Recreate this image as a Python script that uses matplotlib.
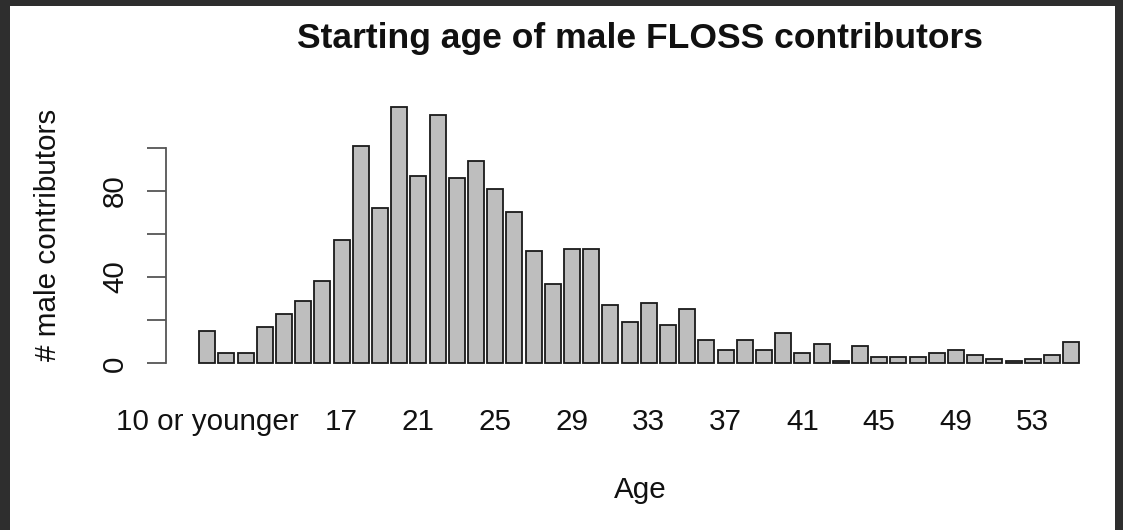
import matplotlib
matplotlib.use("Agg")
import matplotlib.pyplot as plt
from matplotlib.patches import Rectangle

# Starting age categories and number of male contributors per age
ages = ["10 or younger", "11", "12", "13", "14", "15", "16", "17", "18", "19",
        "20", "21", "22", "23", "24", "25", "26", "27", "28", "29",
        "30", "31", "32", "33", "34", "35", "36", "37", "38", "39",
        "40", "41", "42", "43", "44", "45", "46", "47", "48", "49",
        "50", "51", "52", "53", "54", "55"]
counts = [15, 5, 5, 17, 23, 29, 38, 57, 101, 72,
          119, 87, 115, 86, 94, 81, 70, 52, 37, 53,
          53, 27, 19, 28, 18, 25, 11, 6, 11, 6,
          14, 5, 9, 1, 8, 3, 3, 3, 5, 6,
          4, 2, 1, 2, 4, 10]

# Axis annotations
x_labels_shown = ["10 or younger", "17", "21", "25", "29", "33", "37",
                  "41", "45", "49", "53"]
y_ticks = [0, 20, 40, 60, 80, 100]
y_labels_shown = {0: "0", 40: "40", 80: "80"}

title = "Starting age of male FLOSS contributors"
xlabel = "Age"
ylabel = "# male contributors"

W, H, DPI = 1123, 530, 100
FONT = "Liberation Sans"
BASE = 21.3  # pt

fig = plt.figure(figsize=(W / DPI, H / DPI), dpi=DPI)
fig.patch.set_facecolor("#2e2e2e")

# white page inside the dark frame
fig.patches.append(Rectangle((10 / W, 0), (1115 - 10) / W, (H - 6) / H,
                             transform=fig.transFigure, facecolor="white",
                             edgecolor="none", zorder=-10))

ax_left, ax_right = 166, 1114
ax_top, ax_bottom = 96.5, 373.6
ax = fig.add_axes([ax_left / W, (H - ax_bottom) / H,
                   (ax_right - ax_left) / W, (ax_bottom - ax_top) / H])
ax.set_zorder(5)
ax.patch.set_visible(False)

pos = list(range(len(ages)))
ax.bar(pos, counts, width=1 / 1.2, color="#bebebe", edgecolor="#1a1a1a",
       linewidth=1.3, zorder=2)

ax.set_xlim(-2.146, 47.23)
ax.set_ylim(-4.76, 123.76)

for side in ("top", "right", "bottom"):
    ax.spines[side].set_visible(False)
ax.spines["left"].set_bounds(0, 100)
ax.spines["left"].set_color("#555555")
ax.spines["left"].set_linewidth(1.3)

# y axis: ticks every 20, labels on alternate ticks, parallel to the axis
ax.set_yticks(y_ticks)
ax.set_yticklabels([y_labels_shown.get(t, "") for t in y_ticks])
ax.tick_params(axis="y", length=13.9, width=1.3, color="#555555", pad=17.1,
               labelsize=BASE)
for lab in ax.get_yticklabels():
    lab.set_rotation(90)
    lab.set_rotation_mode("anchor")
    lab.set_va("baseline")
    lab.set_ha("center")
    lab.set_fontfamily(FONT)
    lab.set_color("#111111")

# x axis: category names only, no axis line or tick marks
xt = [ages.index(l) for l in x_labels_shown]
ax.set_xticks(xt)
ax.set_xticklabels(x_labels_shown)
ax.tick_params(axis="x", length=0, pad=40.6, labelsize=BASE)
for lab in ax.get_xticklabels():
    lab.set_va("baseline")
    lab.set_fontfamily(FONT)
    lab.set_color("#111111")

ax.set_xlabel(xlabel, fontsize=BASE, fontfamily=FONT, color="#111111")
ax.xaxis.label.set_va("baseline")
ax.xaxis.set_label_coords(0.5, (ax_bottom - 498.3) / (ax_bottom - ax_top))

ax.set_ylabel(ylabel, fontsize=BASE, fontfamily=FONT, color="#111111")
ax.yaxis.label.set_rotation_mode("anchor")
ax.yaxis.label.set_va("baseline")
ax.yaxis.label.set_ha("center")
ax.yaxis.set_label_coords((56 - ax_left) / (ax_right - ax_left), 0.5)

fig.text((ax_left + ax_right) / 2 / W, (H - 47.7) / H, title,
         fontsize=BASE * 1.2, fontweight="bold", fontfamily=FONT,
         ha="center", va="baseline", color="#111111", zorder=6)

fig.savefig("out.png", dpi=DPI, facecolor=fig.get_facecolor())
